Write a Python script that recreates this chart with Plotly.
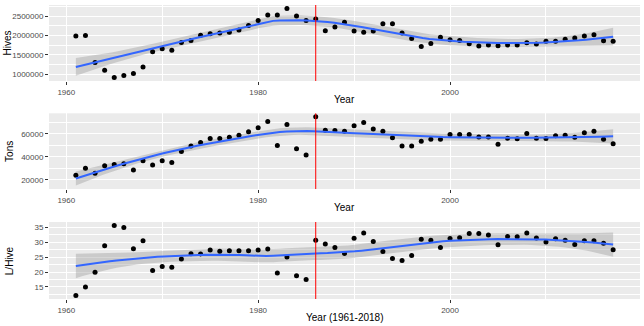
import numpy as np
import plotly.graph_objects as go

years = list(range(1961, 2018))

hives = [1990000, 2000000, 1305000, 1102000, 915000, 966000, 1017000, 1186000, 1585000, 1661000,
         1619000, 1822000, 1873000, 2008000, 2051000, 2068000, 2085000, 2144000, 2263000, 2390000,
         2534000, 2534000, 2703000, 2508000, 2390000, 2428000, 2127000, 2220000, 2347000, 2119000,
         2085000, 2119000, 2305000, 2305000, 2068000, 1924000, 1720000, 1797000, 1958000, 1890000,
         1873000, 1788000, 1729000, 1754000, 1737000, 1754000, 1754000, 1814000, 1780000, 1856000,
         1856000, 1907000, 1941000, 1992000, 2025000, 1864000, 1856000]

tons = [24000, 30000, 25700, 32300, 33400, 34000, 28600, 36600, 32900, 36600,
        35100, 44600, 49400, 52600, 56000, 56000, 57100, 58900, 62000, 65400,
        70900, 50000, 68300, 47100, 41700, 75000, 63300, 63100, 62300, 67100,
        70000, 64300, 62300, 56600, 49400, 49400, 53700, 55400, 55400, 59400,
        59400, 59400, 57400, 57400, 50900, 56300, 55700, 60300, 56300, 56000,
        58300, 58900, 57100, 61100, 62300, 55400, 51400]

l_hive = [12.1, 15.0, 19.9, 28.9, 35.7, 35.0, 27.9, 30.6, 20.5, 21.9,
          21.6, 24.4, 26.2, 26.1, 27.4, 27.0, 27.2, 27.2, 27.2, 27.4,
          27.8, 19.7, 25.1, 18.8, 17.5, 30.7, 29.5, 28.3, 26.3, 31.4,
          33.2, 30.3, 26.9, 24.6, 23.9, 25.6, 31.1, 30.7, 28.3, 31.3,
          31.6, 33.0, 33.0, 32.5, 29.2, 32.0, 31.9, 33.2, 31.5, 30.1,
          31.2, 30.7, 29.3, 30.6, 30.6, 29.7, 27.5]

panel_titles = ["Hives", "Tons", "L/Hive"]
x_titles = ["Year", "Year", "Year (1961-2018)"]
vline_year = 1986


def t_quantile(df, z=1.959964):
    return (z + (z**3 + z) / (4 * df) + (5 * z**5 + 16 * z**3 + 3 * z) / (96 * df**2)
            + (3 * z**7 + 19 * z**5 + 17 * z**3 - 15 * z) / (384 * df**3))


def loess_rows(x, x0s, span=0.75):
    n = len(x)
    q = int(np.floor(n * span))
    rows = []
    for x0 in x0s:
        d = np.abs(x - x0)
        h = np.sort(d)[q - 1]
        u = np.clip(d / h, 0, 1)
        w = (1 - u**3) ** 3
        X = np.column_stack([np.ones(n), x - x0, (x - x0) ** 2])
        XtW = X.T * w
        A = np.linalg.solve(XtW @ X, XtW)
        rows.append(A[0])
    return np.array(rows)


def loess_smooth(xv, yv, npts=80):
    x = np.asarray(xv, float)
    y = np.asarray(yv, float)
    xs = np.linspace(x.min(), x.max(), npts)
    L = loess_rows(x, x)
    res = y - L @ y
    IL = np.eye(len(x)) - L
    M = IL.T @ IL
    d1 = np.trace(M)
    d2 = np.trace(M @ M)
    sigma = np.sqrt(np.sum(res**2) / d1)
    df = d1**2 / d2
    Lp = loess_rows(x, xs)
    fit = Lp @ y
    se = sigma * np.sqrt(np.sum(Lp**2, axis=1))
    tq = t_quantile(df)
    return xs, fit, fit - tq * se, fit + tq * se


series = [hives, tons, l_hive]
domains = [[0.7415, 1.0], [0.374, 0.6316], [0.0, 0.2619]]
ydticks = [500000, 20000, 5]

fig = go.Figure()
ymins, ymaxs = [], []
for i, vals in enumerate(series):
    xa = "x" if i == 0 else f"x{i+1}"
    ya = "y" if i == 0 else f"y{i+1}"
    xs, fit, lo, hi = loess_smooth(years, vals)
    fig.add_trace(go.Scatter(
        x=list(xs) + list(xs[::-1]), y=list(hi) + list(lo[::-1]),
        fill="toself", fillcolor="rgba(153,153,153,0.4)", line=dict(width=0),
        mode="lines", hoverinfo="skip", showlegend=False, xaxis=xa, yaxis=ya))
    fig.add_trace(go.Scatter(
        x=years, y=vals, mode="markers", marker=dict(color="black", size=5),
        showlegend=False, xaxis=xa, yaxis=ya))
    fig.add_trace(go.Scatter(
        x=xs, y=fit, mode="lines", line=dict(color="#3366FF", width=2),
        showlegend=False, xaxis=xa, yaxis=ya))
    lo_all = min(min(vals), lo.min())
    hi_all = max(max(vals), hi.max())
    pad = (hi_all - lo_all) * 0.05
    ymins.append(lo_all - pad)
    ymaxs.append(hi_all + pad)

xr = [min(years) - 0.05 * (max(years) - min(years)), max(years) + 0.05 * (max(years) - min(years))]

tickfont = dict(family="Liberation Sans, Arial, sans-serif", size=8, color="#4D4D4D")
layout = dict(
    width=644, height=326,
    margin=dict(l=49, r=4, t=5, b=27),
    paper_bgcolor="white", plot_bgcolor="#EBEBEB",
    showlegend=False,
)
shapes = []
annotations = []
ytitle_x = [7.5, 8.7, 9.7]
xtitle_y = [99, 207, 317]
for i in range(3):
    sfx = "" if i == 0 else str(i + 1)
    layout["xaxis" + sfx] = dict(
        domain=[0, 1], anchor="y" + sfx, range=xr,
        tick0=1960, dtick=20, ticks="outside", ticklen=3, tickcolor="#333333", tickwidth=1,
        showgrid=True, gridcolor="white", gridwidth=1, zeroline=False, showline=False,
        tickfont=tickfont,
        minor=dict(tick0=1960, dtick=10, showgrid=True, gridcolor="white", gridwidth=0.5, ticks=""),
    )
    layout["yaxis" + sfx] = dict(
        domain=domains[i], anchor="x" + sfx, range=[ymins[i], ymaxs[i]],
        tick0=0, dtick=ydticks[i], ticks="outside", ticklen=3, tickcolor="#333333", tickwidth=1,
        showgrid=True, gridcolor="white", gridwidth=1, zeroline=False, showline=False,
        tickfont=tickfont, tickformat="d",
        minor=dict(tick0=0, dtick=ydticks[i] / 2, showgrid=True, gridcolor="white", gridwidth=0.5, ticks=""),
    )
    shapes.append(dict(type="line", xref="x" + sfx, yref=("y" + sfx) + " domain",
                       x0=vline_year, x1=vline_year, y0=0, y1=1,
                       line=dict(color="red", width=1)))
    dom = domains[i]
    annotations.append(dict(
        text=panel_titles[i], textangle=-90, xref="paper", yref="paper",
        x=(ytitle_x[i] - 49) / 591, y=(dom[0] + dom[1]) / 2, xanchor="center", yanchor="middle",
        showarrow=False, font=dict(family="Liberation Sans, Arial, sans-serif", size=10, color="black")))
    annotations.append(dict(
        text=x_titles[i], xref="paper", yref="paper",
        x=0.5, y=(299 - xtitle_y[i]) / 294, xanchor="center", yanchor="middle",
        showarrow=False, font=dict(family="Liberation Sans, Arial, sans-serif", size=10, color="black")))

layout["shapes"] = shapes
layout["annotations"] = annotations
fig.update_layout(**layout)
fig.write_html("out.html", config={"displayModeBar": False})

with open("out.html", "r", encoding="utf-8") as f:
    html = f.read()
html = html.replace("<head>", "<head><style>html,body{margin:0;padding:0;overflow:hidden;}</style>", 1)
with open("out.html", "w", encoding="utf-8") as f:
    f.write(html)
